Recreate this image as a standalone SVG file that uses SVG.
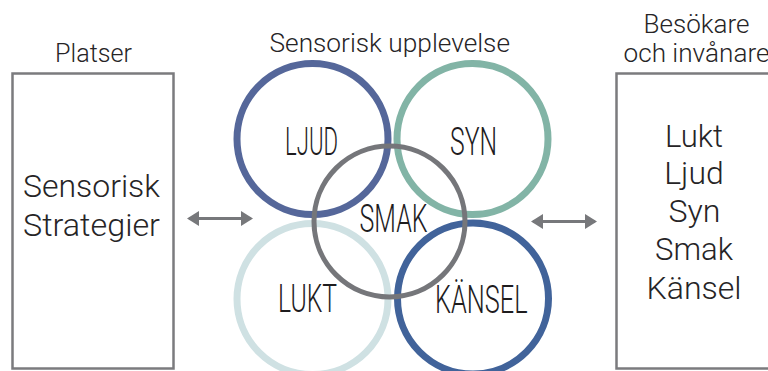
<svg xmlns="http://www.w3.org/2000/svg" width="768" height="371" viewBox="0 0 768 371">
  <defs>
    <style>
      .t { font-family: Roboto, "Liberation Sans", sans-serif; font-weight: 300; fill: #262426; }
      .hd { font-size: 25px; }
      .bx { font-size: 31px; text-anchor: middle; }
      .cl { font-size: 38px; font-weight: 300; fill: #1e1c1e; }
      .box { fill: #ffffff; stroke: #7b7b7e; stroke-width: 2.5; }
      .ring { fill: none; stroke-width: 7; }
      .conn { stroke: #77787b; stroke-width: 3; fill: none; }
    </style>
    <marker id="ah" viewBox="0 0 12 15" refX="10" refY="7.5" markerWidth="12" markerHeight="15" markerUnits="userSpaceOnUse" orient="auto-start-reverse">
      <path d="M0,0 L12,7.5 L0,15 Z" fill="#77787b"/>
    </marker>
  </defs>
  <rect width="768" height="371" fill="#ffffff"/>

  <g id="platser">
    <text class="t hd" x="55" y="62" textLength="77" lengthAdjust="spacingAndGlyphs">Platser</text>
    <rect class="box" x="12.5" y="73.5" width="161" height="295"/>
    <text class="t bx" x="91.5" y="197" textLength="137" lengthAdjust="spacingAndGlyphs">Sensorisk</text>
    <text class="t bx" x="91.5" y="236" textLength="137" lengthAdjust="spacingAndGlyphs">Strategier</text>
  </g>

  <g id="upplevelse-title">
    <text class="t hd" x="269.5" y="51.5" textLength="240.5" lengthAdjust="spacingAndGlyphs">Sensorisk upplevelse</text>
  </g>

  <g id="lukt">
    <circle class="ring" cx="312.5" cy="299" r="75.5" stroke="#cfe1e3"/>
    <text class="t cl" x="278" y="311.5" textLength="59" lengthAdjust="spacingAndGlyphs">LUKT</text>
  </g>
  <g id="kansel">
    <circle class="ring" cx="473" cy="298.5" r="75.5" stroke="#41639a"/>
    <text class="t cl" x="435" y="312.5" textLength="92.5" lengthAdjust="spacingAndGlyphs">KÄNSEL</text>
  </g>
  <g id="ljud">
    <circle class="ring" cx="312.5" cy="139" r="75.5" stroke="#55679a"/>
    <text class="t cl" x="285" y="155" textLength="53" lengthAdjust="spacingAndGlyphs">LJUD</text>
  </g>
  <g id="syn">
    <circle class="ring" cx="472.5" cy="139" r="75.5" stroke="#82b4a6"/>
    <text class="t cl" x="450" y="155" textLength="47" lengthAdjust="spacingAndGlyphs">SYN</text>
  </g>
  <g id="smak">
    <circle cx="389.5" cy="221.5" r="75.5" fill="none" stroke="#75767a" stroke-width="5"/>
    <text class="t cl" x="359.5" y="232" textLength="68" lengthAdjust="spacingAndGlyphs">SMAK</text>
  </g>

  <g id="besokare">
    <text class="t hd" x="643.5" y="32.5" textLength="106" lengthAdjust="spacingAndGlyphs">Besökare</text>
    <text class="t hd" x="623.5" y="61.5" textLength="146" lengthAdjust="spacingAndGlyphs">och invånare</text>
    <rect class="box" x="616.5" y="73.5" width="160" height="295"/>
    <text class="t bx" x="694" y="146.5" textLength="58" lengthAdjust="spacingAndGlyphs">Lukt</text>
    <text class="t bx" x="694" y="183.5" textLength="59.5" lengthAdjust="spacingAndGlyphs">Ljud</text>
    <text class="t bx" x="694.5" y="221.5" textLength="52" lengthAdjust="spacingAndGlyphs">Syn</text>
    <text class="t bx" x="694" y="260" textLength="78" lengthAdjust="spacingAndGlyphs">Smak</text>
    <text class="t bx" x="694" y="298.5" textLength="95" lengthAdjust="spacingAndGlyphs">Känsel</text>
  </g>

  <g id="connectors">
    <line class="conn" x1="189" y1="218.5" x2="251" y2="218.5" marker-start="url(#ah)" marker-end="url(#ah)"/>
    <line class="conn" x1="533" y1="221.5" x2="595" y2="221.5" marker-start="url(#ah)" marker-end="url(#ah)"/>
  </g>
</svg>
